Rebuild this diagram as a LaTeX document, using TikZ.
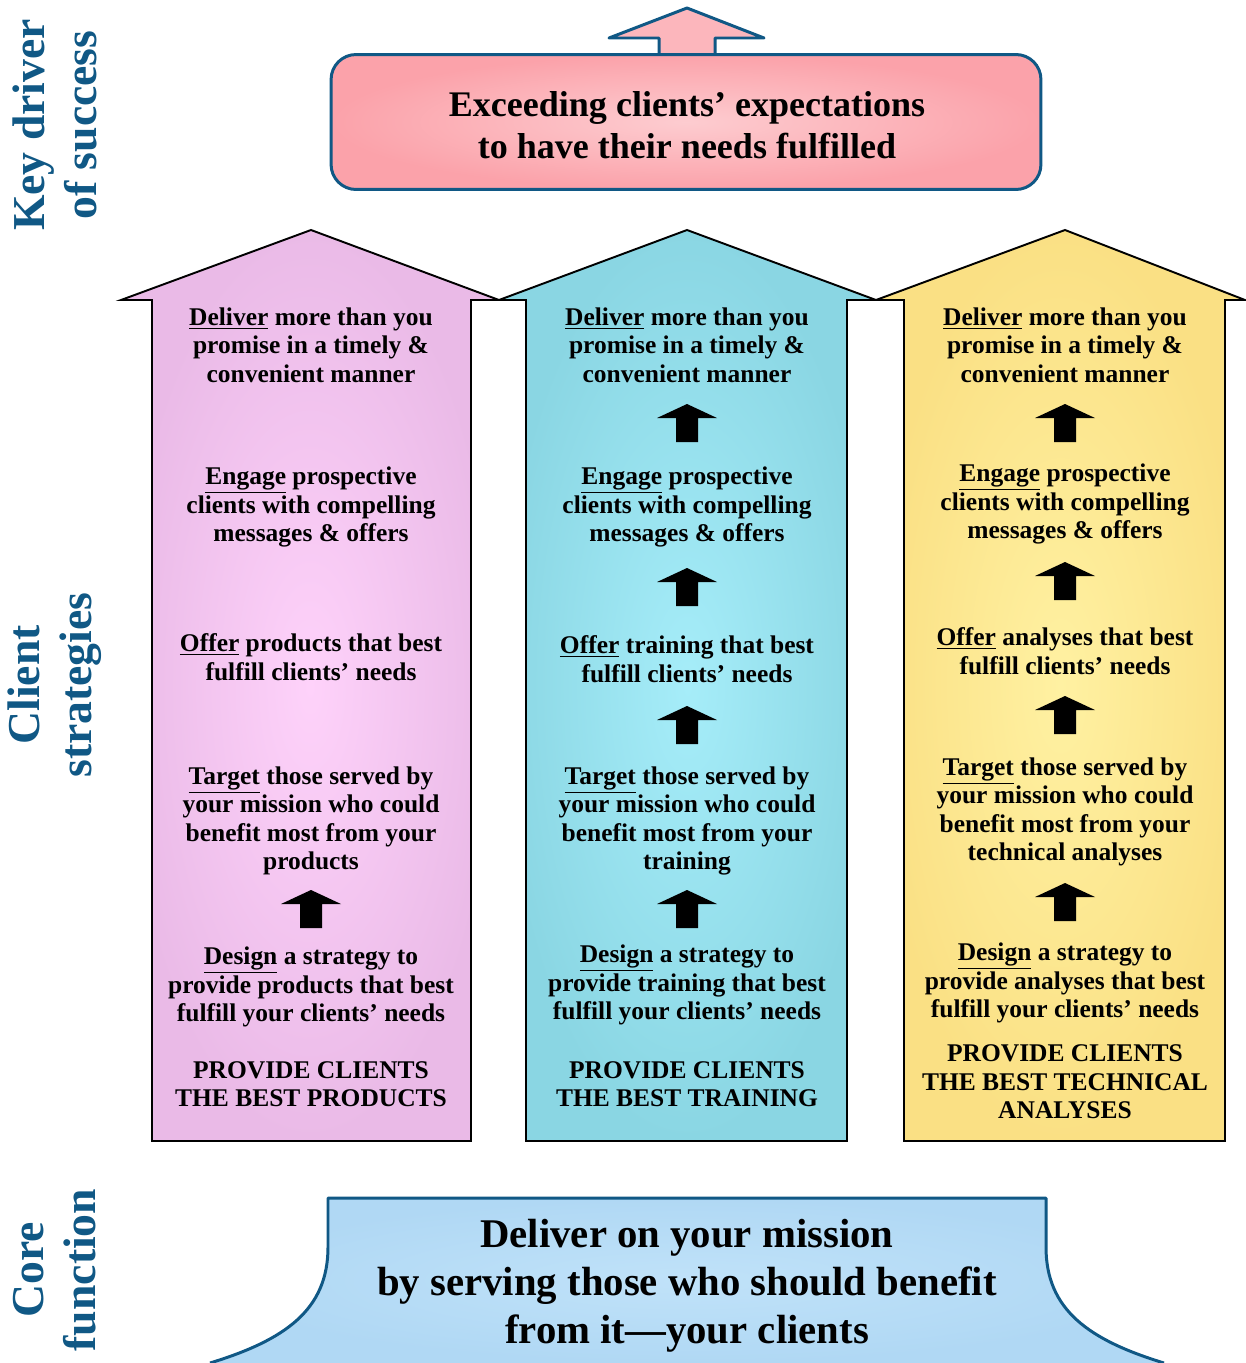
\documentclass[tikz,border=0pt]{standalone}
\usepackage{fontspec}
\setmainfont{Liberation Serif}
\usetikzlibrary{positioning}

\definecolor{navy}{RGB}{16,88,133}
\definecolor{keyout}{RGB}{251,162,170}
\definecolor{keyin}{RGB}{253,204,208}
\definecolor{keyarr}{RGB}{252,182,188}
\definecolor{pinkout}{RGB}{234,186,231}
\definecolor{pinkin}{RGB}{254,210,250}
\definecolor{cyanout}{RGB}{138,214,227}
\definecolor{cyanin}{RGB}{166,237,249}
\definecolor{yelout}{RGB}{250,224,132}
\definecolor{yelin}{RGB}{255,241,162}
\definecolor{coreout}{RGB}{176,216,244}
\definecolor{corein}{RGB}{192,226,249}

\begin{document}
\begin{tikzpicture}[x=0.02cm, y=-0.02cm,
  colarrow/.style={draw=black, line width=1.1pt, line join=miter},
  navyline/.style={draw=navy, line width=1.7pt, line join=round},
  stxt/.style={align=center, font=\fontsize{14.5}{16.2}\selectfont\bfseries},
  side/.style={rotate=90, align=center, text=navy, font=\fontsize{26}{29.5}\selectfont\bfseries},
  uparr/.pic={\fill[black] (-30,14) -- (0,0) -- (30,14) -- (11,14) -- (11,38) -- (-11,38) -- (-11,14) -- cycle;}
]
\useasboundingbox (0,0) rectangle (1246,1363);

% Side labels
\node[side] (lkey)  at (55,125)  {Key driver\\of success};
\node[side] (lcli)  at (55,685)  {Client\\strategies};
\node[side] (lcore) at (55,1270) {Core\\function};

% Key driver box with its arrow
\path[navyline, fill=keyarr] (659,55) -- (659,38) -- (609,38) -- (687,8) -- (764,38) -- (715,38) -- (715,55);
\node[navyline, rounded corners=0.5cm, inner color=keyin, outer color=keyout,
  minimum width=14.2cm, minimum height=2.7cm, align=center,
  font=\fontsize{20.5}{23.8}\selectfont\bfseries] (key) at (686,122) {};
\node[align=center, font=\fontsize{20.5}{23.8}\selectfont\bfseries] (keytxt) at (687,125)
  {Exceeding clients' expectations\\to have their needs fulfilled};

% Three strategy arrows
\shade[colarrow, inner color=pinkin, outer color=pinkout]
  (152,1141) -- (152,300) -- (121,300) -- (311,230) -- (499,300) -- (471,300) -- (471,1141) -- cycle;
\shade[colarrow, inner color=cyanin, outer color=cyanout]
  (526,1141) -- (526,300) -- (499,300) -- (687,230) -- (876,300) -- (847,300) -- (847,1141) -- cycle;
\shade[colarrow, inner color=yelin, outer color=yelout]
  (904,1141) -- (904,300) -- (876,300) -- (1065,230) -- (1245,300) -- (1225,300) -- (1225,1141) -- cycle;

% Products
\node[stxt] (pdel) at (311,345) {\underline{Deliver} more than you\\promise in a timely \&\\convenient manner};
\node[stxt] (peng) at (311,507) {\underline{Engage} prospective\\clients with compelling\\messages \& offers};
\node[stxt] (poff) at (311,657) {\underline{Offer} products that best\\fulfill clients' needs};
\node[stxt] (ptar) at (311,821) {\underline{Target} those served by\\your mission who could\\benefit most from your\\products};
\node[stxt] (pdes) at (311,987) {\underline{Design} a strategy to\\provide products that best\\fulfill your clients' needs};
\node[stxt] (pgoal) at (311,1084) {PROVIDE CLIENTS\\THE BEST PRODUCTS};
\pic at (311,890) {uparr};

% Training
\node[stxt] (tdel) at (687,345) {\underline{Deliver} more than you\\promise in a timely \&\\convenient manner};
\node[stxt] (teng) at (687,507) {\underline{Engage} prospective\\clients with compelling\\messages \& offers};
\node[stxt] (toff) at (687,659) {\underline{Offer} training that best\\fulfill clients' needs};
\node[stxt] (ttar) at (687,821) {\underline{Target} those served by\\your mission who could\\benefit most from your\\training};
\node[stxt] (tdes) at (687,985) {\underline{Design} a strategy to\\provide training that best\\fulfill your clients' needs};
\node[stxt] (tgoal) at (687,1084) {PROVIDE CLIENTS\\THE BEST TRAINING};
\foreach \y in {404,568,706,890}
  \pic at (687,\y) {uparr};

% Technical analyses
\node[stxt] (adel) at (1065,345) {\underline{Deliver} more than you\\promise in a timely \&\\convenient manner};
\node[stxt] (aeng) at (1065,504) {\underline{Engage} prospective\\clients with compelling\\messages \& offers};
\node[stxt] (aoff) at (1065,651) {\underline{Offer} analyses that best\\fulfill clients' needs};
\node[stxt] (atar) at (1065,812) {\underline{Target} those served by\\your mission who could\\benefit most from your\\technical analyses};
\node[stxt] (ades) at (1065,983) {\underline{Design} a strategy to\\provide analyses that best\\fulfill your clients' needs};
\node[stxt] (agoal) at (1065,1082) {PROVIDE CLIENTS\\THE BEST TECHNICAL\\ANALYSES};
\foreach \y in {404,562,696,883}
  \pic at (1065,\y) {uparr};

% Core function
\shade[inner color=corein, outer color=coreout]
  (210,1363) .. controls (285,1340) and (328,1310) .. (328,1247) -- (328,1198) -- (1046,1198)
  -- (1046,1247) .. controls (1046,1310) and (1089,1340) .. (1164,1363) -- cycle;
\draw[navyline]
  (210,1363) .. controls (285,1340) and (328,1310) .. (328,1247) -- (328,1198) -- (1046,1198)
  -- (1046,1247) .. controls (1046,1310) and (1089,1340) .. (1164,1363);
\node[align=center, font=\fontsize{23.2}{27.2}\selectfont\bfseries] (core) at (687,1286)
  {Deliver on your mission\\by serving those who should benefit\\from it---your clients};
\end{tikzpicture}
\end{document}
